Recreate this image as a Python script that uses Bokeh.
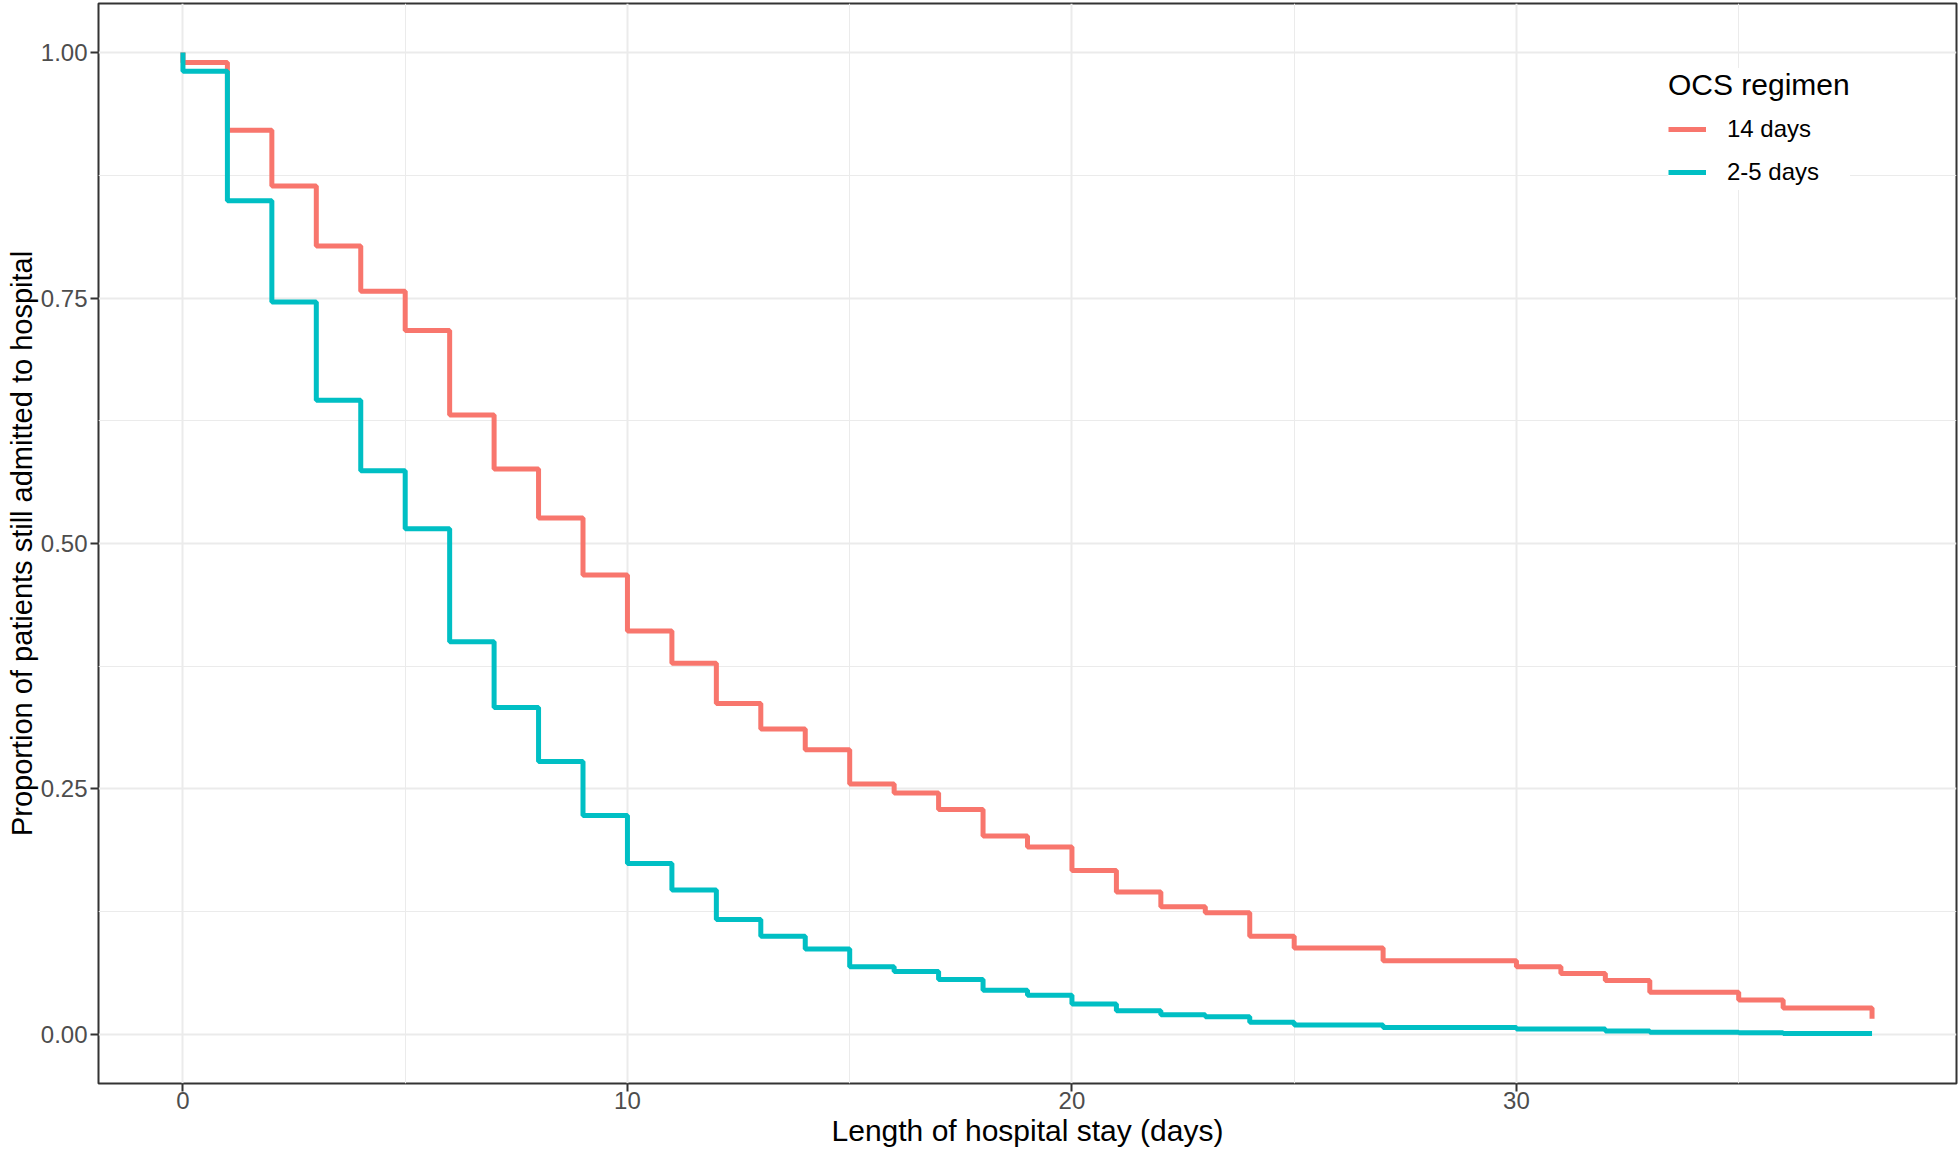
from bokeh.plotting import figure
from bokeh.models import FixedTicker, Range1d, NumeralTickFormatter
from bokeh.embed import file_html
from bokeh.resources import INLINE

# ---- data ----
series_names = ["14 days", "2-5 days"]

days_14 = [0, 0, 1, 2, 3, 4, 5, 6, 7, 8, 9, 10, 11, 12, 13, 14, 15, 16, 17, 18, 19,
           20, 21, 22, 23, 24, 25, 27, 30, 31, 32, 33, 35, 36, 38]
surv_14 = [1.0, 0.990, 0.921, 0.864, 0.803, 0.757, 0.717, 0.631, 0.576, 0.526, 0.468,
           0.411, 0.378, 0.337, 0.311, 0.290, 0.255, 0.246, 0.229, 0.202, 0.191,
           0.167, 0.145, 0.130, 0.124, 0.100, 0.088, 0.075, 0.069, 0.062, 0.055,
           0.043, 0.035, 0.027, 0.016]

days_25 = [0, 0, 1, 2, 3, 4, 5, 6, 7, 8, 9, 10, 11, 12, 13, 14, 15, 16, 17, 18, 19,
           20, 21, 22, 23, 24, 25, 27, 30, 32, 33, 35, 36, 38]
surv_25 = [1.0, 0.981, 0.849, 0.746, 0.646, 0.574, 0.515, 0.400, 0.333, 0.278, 0.223,
           0.174, 0.147, 0.117, 0.100, 0.087, 0.069, 0.064, 0.056, 0.045, 0.040,
           0.031, 0.024, 0.020, 0.018, 0.0125, 0.0095, 0.007, 0.0055, 0.0035, 0.0022,
           0.0017, 0.001, 0.001]

x_ticks = [0, 10, 20, 30]
x_minor = [5, 15, 25, 35]
y_ticks = [0.0, 0.25, 0.50, 0.75, 1.00]
y_minor = [0.125, 0.375, 0.625, 0.875]

x_title = "Length of hospital stay (days)"
y_title = "Proportion of patients still admitted to hospital"
legend_title = "OCS regimen"

FONT = "Liberation Sans"

p = figure(width=1960, height=1149, output_backend="svg", toolbar_location=None,
           x_range=Range1d(-1.9, 39.9), y_range=Range1d(-0.05, 1.05),
           min_border_left=98, min_border_right=4, min_border_top=3, min_border_bottom=66)

p.background_fill_color = "white"
p.border_fill_color = "white"
p.outline_line_color = "#333333"
p.outline_line_width = 2

# grids
for g in (p.xgrid, p.ygrid):
    g.grid_line_color = "#EBEBEB"
    g.grid_line_width = 2
    g.minor_grid_line_color = "#EBEBEB"
    g.minor_grid_line_width = 1

p.xaxis.ticker = FixedTicker(ticks=x_ticks, minor_ticks=x_minor)
p.yaxis.ticker = FixedTicker(ticks=y_ticks, minor_ticks=y_minor)
p.yaxis.formatter = NumeralTickFormatter(format="0.00")

for ax in (p.xaxis, p.yaxis):
    ax.axis_line_color = None
    ax.major_tick_line_color = "#333333"
    ax.major_tick_line_width = 2
    ax.major_tick_out = 8
    ax.major_tick_in = 0
    ax.minor_tick_out = 0
    ax.minor_tick_in = 0
    ax.major_label_text_font = FONT
    ax.major_label_text_font_size = "24px"
    ax.major_label_text_color = "#4D4D4D"
    ax.axis_label_text_font = FONT
    ax.axis_label_text_font_style = "normal"
    ax.axis_label_text_color = "black"

p.xaxis.axis_label = x_title
p.xaxis.axis_label_text_font_size = "30px"
p.xaxis.major_label_standoff = 0
p.xaxis.axis_label_standoff = 2

p.yaxis.axis_label = y_title
p.yaxis.axis_label_text_font_size = "29px"
p.yaxis.major_label_standoff = 3
p.yaxis.axis_label_standoff = 0

# curves
p.step(days_14, surv_14, mode="after", line_color="#F8766D", line_width=5,
       legend_label=series_names[0])
p.step(days_25, surv_25, mode="after", line_color="#00BFC4", line_width=5,
       legend_label=series_names[1])

lg = p.legend[0]
lg.title = legend_title
lg.title_text_font = FONT
lg.title_text_font_size = "30px"
lg.title_text_font_style = "normal"
lg.title_text_color = "black"
lg.title_standoff = 9
lg.label_text_font = FONT
lg.label_text_font_size = "24px"
lg.label_text_color = "black"
lg.glyph_width = 38
lg.glyph_height = 36
lg.label_height = 36
lg.label_standoff = 21
lg.spacing = 7
lg.padding = 8
lg.margin = 0
lg.border_line_color = None
lg.background_fill_color = "white"
lg.background_fill_alpha = 1.0
lg.location = (1570, 893)

open("out.html", "w").write(file_html(p, INLINE))
